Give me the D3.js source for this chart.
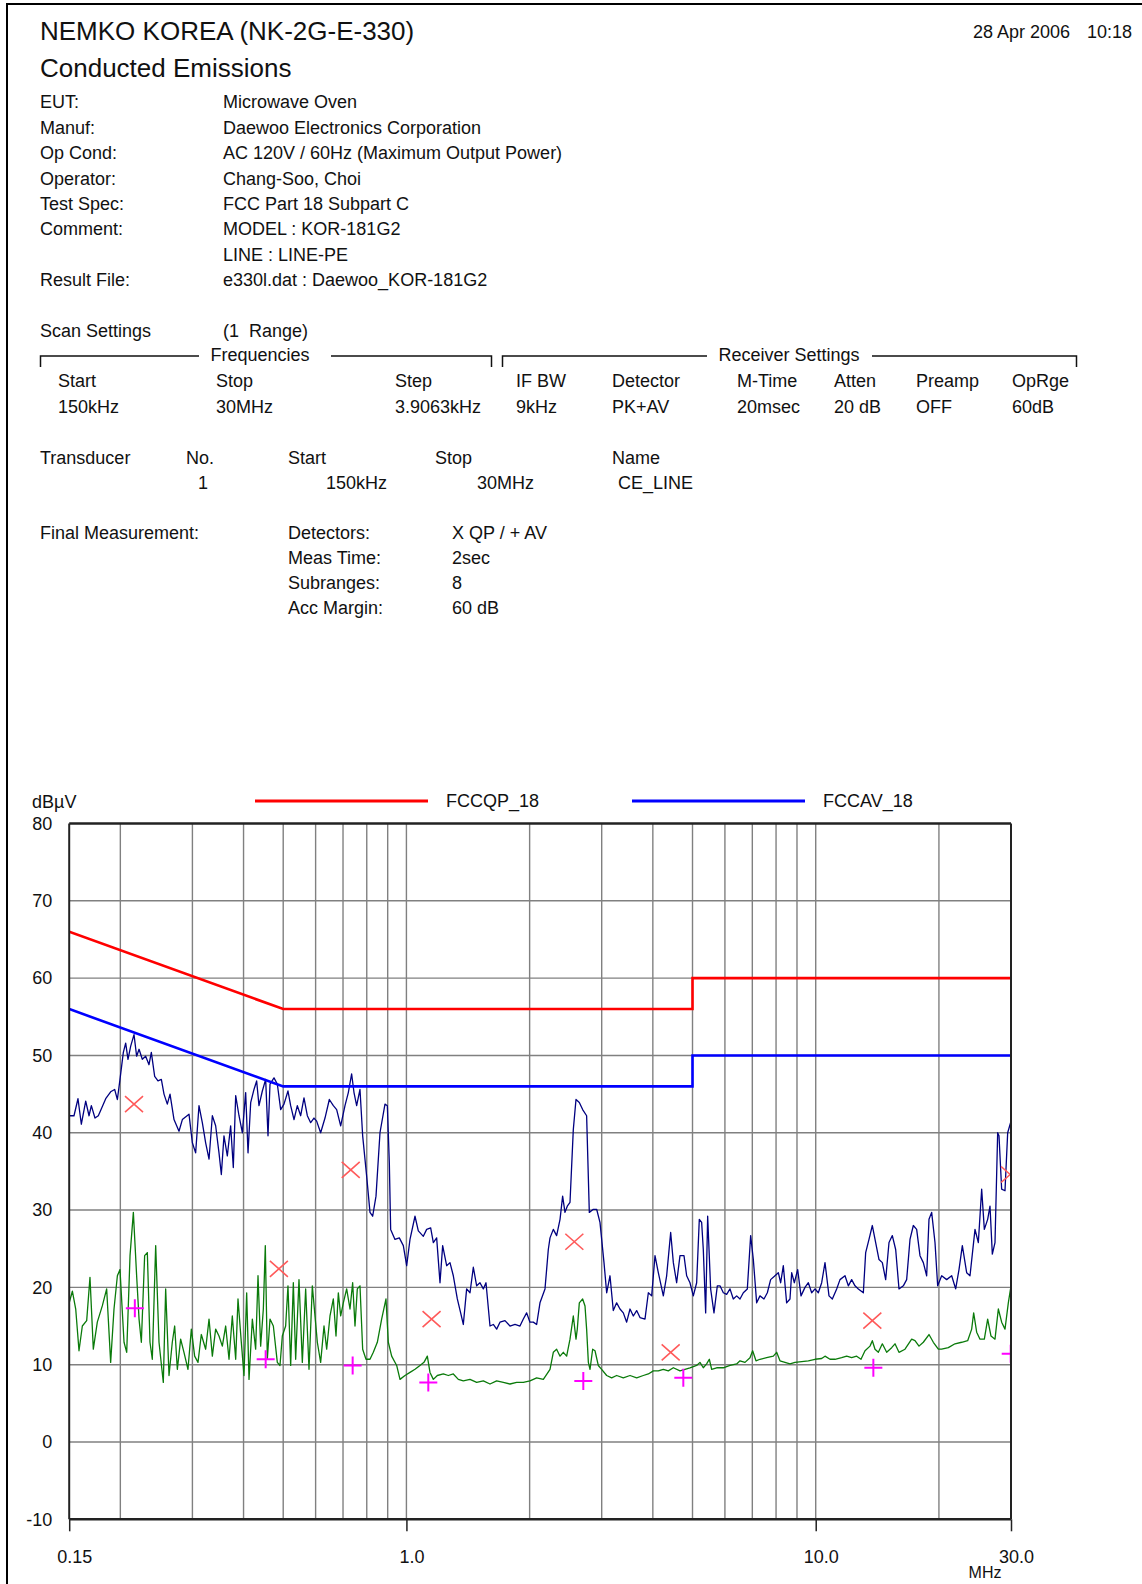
<!DOCTYPE html>
<html>
<head>
<meta charset="utf-8">
<script src="https://cdn.jsdelivr.net/npm/d3@7"></script>
<style>
  body { margin: 0; background: #fff; }
  svg { display: block; }
  text { font-family: "Liberation Sans", Arial, sans-serif; fill: #111; }
</style>
</head>
<body>
<svg id="page" width="1142" height="1584"></svg>
<script>

// ---- report header text
var infoLabels = ["EUT:", "Manuf:", "Op Cond:", "Operator:", "Test Spec:", "Comment:", "", "Result File:"];
var infoValues = ["Microwave Oven", "Daewoo Electronics Corporation", "AC 120V / 60Hz (Maximum Output Power)",
                  "Chang-Soo, Choi", "FCC Part 18 Subpart C", "MODEL : KOR-181G2", "LINE : LINE-PE",
                  "e330l.dat : Daewoo_KOR-181G2"];
var scanHeads  = ["Start", "Stop", "Step", "IF BW", "Detector", "M-Time", "Atten", "Preamp", "OpRge"];
var scanValues = ["150kHz", "30MHz", "3.9063kHz", "9kHz", "PK+AV", "20msec", "20 dB", "OFF", "60dB"];
var transHeads  = ["Transducer", "No.", "Start", "Stop", "Name"];
var transValues = ["", "1", "150kHz", "30MHz", "CE_LINE"];
var finalLabels = ["Detectors:", "Meas Time:", "Subranges:", "Acc Margin:"];
var finalValues = ["X QP / + AV", "2sec", "8", "60 dB"];

// ---- chart data (MHz, dBuV)
var freqTicks = [0.15, 1, 10, 30];
var freqTickLabels = ["0.15", "1.0", "10.0", "30.0"];
var gridFreqs = [0.2, 0.3, 0.4, 0.5, 0.6, 0.7, 0.8, 0.9, 1, 2, 3, 4, 5, 6, 7, 8, 9, 10, 20];
var levelTicks = [-10, 0, 10, 20, 30, 40, 50, 60, 70, 80];

var limitFreq = [0.15, 0.5, 5, 5, 30];
var qpLimit   = [66, 56, 56, 60, 60];
var avLimit   = [56, 46, 46, 50, 50];

var qpFreq  = [0.216, 0.488, 0.731, 1.152, 2.572, 4.422, 13.75, 29.85];
var qpLevel = [43.7, 22.4, 35.2, 15.9, 25.9, 11.6, 15.7, 34.6];
var avFreq  = [0.217, 0.453, 0.739, 1.131, 2.705, 4.748, 13.83, 29.95];
var avLevel = [17.3, 10.7, 9.9, 7.7, 7.9, 8.3, 9.6, 11.4];

var peakTrace = [
  [0.150,42.2],[0.1541,42.2],[0.1576,44.4],[0.1606,41.1],[0.1646,44.1],[0.1677,42.2],[0.1699,43.5],[0.1734,41.9],
  [0.1767,42.2],[0.1801,43.2],[0.1842,44.4],[0.1894,45.3],[0.1937,45.6],[0.1967,44.3],[0.1996,46.9],[0.2034,50.4],
  [0.2061,51.6],[0.2088,49.5],[0.2120,51.2],[0.2160,52.7],[0.2192,49.9],[0.2222,50.8],[0.2263,49.5],[0.2306,49.9],
  [0.2350,48.8],[0.2381,50.4],[0.2426,47.3],[0.2472,46.7],[0.2519,46.9],[0.2557,45.0],[0.2605,43.7],[0.2645,45.0],
  [0.2705,41.7],[0.2782,40.2],[0.2835,41.7],[0.2943,42.4],[0.2999,38.7],[0.3055,37.4],[0.3113,43.5],[0.3172,41.3],
  [0.3232,38.7],[0.3294,36.6],[0.3356,42.2],[0.3419,40.9],[0.3484,37.4],[0.3530,34.6],[0.3583,39.6],[0.3651,37.0],
  [0.3720,40.9],[0.3776,35.5],[0.3827,44.8],[0.3899,42.2],[0.3973,40.0],[0.4048,45.2],[0.4102,37.4],[0.4164,43.9],
  [0.4242,45.6],[0.4306,46.7],[0.4363,43.5],[0.4446,45.4],[0.4530,46.9],[0.4590,39.6],[0.4642,46.3],[0.4747,47.1],
  [0.4837,46.3],[0.4929,43.0],[0.5022,43.7],[0.5136,45.4],[0.5214,43.5],[0.5313,41.7],[0.5413,43.5],[0.5516,42.2],
  [0.5620,44.5],[0.5727,42.2],[0.5835,41.3],[0.5945,41.9],
  [0.6035,41.5],[0.6172,40.0],[0.6325,41.9],[0.6481,44.3],[0.6629,43.5],[0.6754,43.0],[0.6908,40.9],[0.7078,43.5],
  [0.7212,45.2],[0.7348,47.6],[0.7446,45.2],[0.7558,43.5],[0.7701,45.6],[0.7818,39.6],[0.7995,34.4],[0.8147,29.7],
  [0.8270,29.2],[0.8427,31.8],[0.8618,40.0],[0.8864,43.7],[0.8982,43.5],[0.9083,36.1],[0.9151,27.5],[0.9377,26.2],
  [0.9609,26.4],[0.9827,25.4],[1.0014,22.8],[1.0203,26.2],[1.0494,29.2],[1.0693,27.3],[1.0998,26.6],[1.1206,27.5],
  [1.1461,27.7],[1.1635,25.8],[1.1854,26.4],[1.2079,20.6],[1.2261,25.4],[1.2540,22.8],[1.2777,23.2],[1.3019,21.5],
  [1.3316,18.5],[1.3567,16.7],[1.3772,15.2],[1.4033,19.8],[1.4300,19.3],[1.4570,22.6],[1.4846,20.2],[1.5126,20.6],
  [1.5413,19.8],[1.5646,20.6],[1.6003,15.0],[1.6305,15.2],[1.6614,14.6],[1.6928,15.5],[1.7410,15.7],[1.7908,15.0],
  [1.8419,15.2],[1.8943,15.0],[1.9303,15.9],[1.9667,16.7],[2.0040,15.5],[2.0419,15.5],[2.0806,15.2],[2.1199,18.0],
  [2.1805,19.8],[2.2216,24.9],
  [2.243,26.4],[2.285,27.5],[2.328,26.7],[2.373,28.8],[2.408,31.8],[2.440,29.7],[2.472,30.5],[2.510,31.0],
  [2.557,40.4],[2.596,44.3],[2.645,43.9],[2.695,43.0],[2.756,42.2],[2.798,29.7],[2.862,30.1],[2.916,30.1],
  [2.971,28.4],[3.039,23.2],[3.085,19.3],[3.143,21.5],[3.202,17.0],[3.263,18.0],[3.325,17.2],[3.388,16.7],
  [3.452,15.5],[3.518,17.2],[3.584,16.3],[3.652,17.0],[3.721,16.1],[3.827,15.9],[3.900,19.3],[3.974,18.9],
  [4.049,24.1],[4.125,21.9],[4.243,18.9],[4.323,21.5],[4.422,27.1],[4.489,23.2],[4.573,20.6],[4.660,24.1],
  [4.766,24.1],[4.838,21.5],[4.929,20.6],[5.023,18.9],[5.118,20.6],[5.195,28.8],[5.264,28.4],[5.313,24.9],
  [5.384,16.7],[5.445,29.2],[5.537,19.8],[5.642,16.7],[5.749,20.2],[5.836,20.2],[5.947,19.3],[6.059,19.1],
  [6.174,19.8],[6.290,18.5],[6.410,18.9],[6.531,18.5],[6.655,19.3],[6.806,19.8],[6.935,26.7],[7.040,23.6],
  [7.173,18.0],[7.308,18.9],[7.475,18.5],[7.617,19.3],[7.760,21.0],[7.952,21.5],[8.103,21.9],[8.210,20.6],
  [8.334,22.8],[8.491,18.0],[8.652,18.5],
  [8.735,21.9],[8.867,20.6],[9.035,22.3],[9.206,18.9],[9.415,20.0],[9.594,20.6],[9.775,19.3],[9.960,19.8],
  [10.148,19.3],[10.341,20.6],[10.536,23.2],[10.776,18.9],[10.980,18.5],[11.251,19.8],[11.464,21.0],[11.791,21.5],
  [12.014,20.2],[12.241,21.0],[12.473,20.2],[12.710,19.8],[13.073,19.3],[13.245,24.5],[13.495,26.2],[13.751,28.0],
  [14.011,25.8],[14.276,23.6],[14.547,23.2],[14.822,21.0],[15.103,25.8],[15.388,26.7],[15.680,24.9],[15.976,19.8],
  [16.370,20.2],[16.680,21.0],[16.996,26.2],[17.318,28.0],[17.645,27.5],[17.979,24.1],[18.320,23.2],[18.667,21.5],
  [18.913,28.8],[19.199,29.7],[19.563,25.8],[19.859,20.2],[20.310,21.5],[20.890,21.0],[21.487,21.5],[21.975,19.8],
  [22.391,22.3],[22.815,25.4],[23.378,21.9],[23.820,21.5],[24.500,27.5],[24.964,25.8],[25.437,32.7],[25.821,27.5],
  [26.309,28.8],[26.658,30.5],[27.009,24.3],[27.417,25.8],[27.832,40.0],[28.041,39.6],[28.465,32.7],[29.004,32.5],
  [29.444,40.0],[30.0,41.5]
];

var avgTrace = [
  [0.150,18.0],[0.1527,19.5],[0.1556,17.2],[0.1585,11.8],[0.1615,15.0],[0.1655,15.7],[0.1686,21.3],[0.1718,12.0],
  [0.1757,15.5],[0.1807,17.6],[0.1852,19.8],[0.1894,10.3],[0.1930,17.2],[0.1967,21.5],[0.1996,22.3],[0.2042,12.9],
  [0.2073,11.6],[0.2112,24.1],[0.2152,29.7],[0.2192,21.5],[0.2222,15.9],[0.2251,12.9],[0.2293,24.1],[0.2328,24.5],
  [0.2363,12.9],[0.2394,10.7],[0.2440,25.4],[0.2486,12.9],[0.2547,7.7],[0.2581,19.8],[0.2630,8.6],[0.2679,12.9],
  [0.2715,15.0],[0.2756,9.4],[0.2808,13.3],[0.2861,11.6],[0.2926,9.4],[0.2982,14.6],[0.3038,11.1],[0.3096,10.3],
  [0.3154,13.9],[0.3232,12.0],[0.3294,15.9],[0.3356,11.1],[0.3419,14.6],[0.3484,13.7],[0.3550,12.4],[0.3617,15.0],
  [0.3686,10.7],[0.3755,16.3],[0.3827,10.7],[0.3877,18.5],[0.3950,12.9],[0.4010,8.6],[0.4071,19.3],[0.4125,8.1],
  [0.4203,15.9],[0.4282,12.0],[0.4339,21.5],[0.4404,12.4],[0.4471,17.2],[0.4521,25.4],[0.4573,10.7],[0.4642,15.9],
  [0.4730,15.0],[0.4837,10.3],[0.4910,9.9],[0.4975,13.7],[0.5069,15.0],[0.5136,20.2],[0.5214,9.9],[0.5293,20.6],
  [0.5363,10.7],[0.5464,21.0],[0.5568,10.3],[0.5673,19.8],[0.5781,9.4],[0.5890,20.2],
  [0.6058,12.9],[0.6172,10.3],[0.6290,15.0],[0.6385,12.0],[0.6505,16.3],[0.6629,18.5],[0.6729,13.7],[0.6818,19.3],
  [0.6908,16.3],[0.7012,18.0],[0.7145,19.8],[0.7280,17.2],[0.7390,20.6],[0.7488,15.0],[0.7586,19.8],[0.7701,20.2],
  [0.7818,12.0],[0.7966,10.7],[0.8147,10.7],[0.8301,11.6],[0.8490,12.9],[0.8699,15.9],[0.8914,18.5],[0.9032,12.9],
  [0.9203,11.1],[0.9466,9.9],[0.9645,8.1],[0.9920,8.6],[1.0203,9.0],[1.0494,9.4],[1.0793,9.9],[1.1038,10.3],
  [1.1248,11.1],[1.1418,9.0],[1.1635,8.1],[1.1898,8.6],[1.2307,8.8],[1.2658,8.6],[1.3019,8.8],[1.3391,8.1],
  [1.3772,7.9],[1.4300,8.1],[1.4846,7.7],[1.5413,7.9],[1.6003,7.5],[1.6614,7.9],[1.7249,7.7],[1.7908,7.5],
  [1.8592,7.7],[1.9303,7.7],[2.0040,7.9],[2.0806,8.3],[2.1602,8.1],
  [2.243,9.4],[2.285,11.6],[2.328,12.0],[2.373,11.1],[2.417,11.6],[2.463,11.1],[2.510,13.3],[2.557,16.3],
  [2.596,13.3],[2.615,14.6],[2.645,18.0],[2.695,18.5],[2.731,17.6],[2.756,14.6],[2.783,10.3],[2.809,9.4],
  [2.851,12.0],[2.889,11.8],[2.943,9.9],[2.999,9.4],[3.085,8.6],[3.173,8.3],[3.263,8.6],[3.388,8.3],
  [3.518,8.6],[3.652,8.3],[3.791,8.6],[3.900,8.8],[4.011,9.2],[4.125,9.2],[4.243,9.4],[4.364,9.2],
  [4.489,9.6],[4.660,9.2],[4.793,9.4],[4.929,9.6],[5.118,9.9],[5.215,10.3],[5.313,9.6],[5.414,10.1],
  [5.496,10.7],[5.569,9.4],[5.728,9.6],[5.947,9.6],[6.174,9.9],[6.410,10.1],[6.531,10.5],[6.717,10.3],
  [6.909,10.9],[7.013,11.8],[7.146,10.5],[7.308,10.7],[7.588,10.9],[7.878,11.1],[8.027,11.6],[8.179,10.5],
  [8.412,10.3],
  [8.653,10.1],[8.900,10.3],[9.241,10.4],[9.594,10.5],[9.960,10.7],[10.341,10.8],[10.536,11.1],[10.837,10.7],
  [11.146,10.7],[11.572,10.9],[11.903,11.1],[12.241,10.9],[12.590,11.1],[12.901,10.7],[13.196,11.8],[13.571,12.4],
  [13.751,13.1],[13.959,12.0],[14.223,11.6],[14.547,12.7],[14.906,11.6],[15.331,12.2],[15.621,12.7],[15.976,11.6],
  [16.525,12.0],[17.157,13.3],[17.481,13.1],[17.879,12.4],[18.320,12.9],[18.913,13.9],[19.381,12.9],[19.933,12.0],
  [20.310,12.0],[21.087,12.2],[21.892,12.7],[22.729,12.9],[23.510,13.1],[24.046,14.6],[24.317,16.7],[24.731,14.2],
  [25.198,13.3],[25.821,13.3],[26.309,15.9],[26.808,13.7],[27.417,13.3],[27.937,17.2],[28.465,15.5],[29.004,14.6],
  [29.552,18.0],[30.0,20.2]
];

var svg = d3.select("#page");

// page frame (left + top edge of the printout)
svg.append("path").attr("d", "M7,1584V4H1142")
   .attr("fill", "none").attr("stroke", "#000").attr("stroke-width", 2);

function label(g, str, x, y, size, anchor) {
  return g.append("text").attr("x", x).attr("y", y).attr("dy", "0.35em")
    .attr("font-size", size).attr("text-anchor", anchor || "start").text(str);
}

// title block
label(svg, "NEMKO KOREA (NK-2G-E-330)", 40, 31, 26);
label(svg, "Conducted Emissions", 40, 68, 26);
label(svg, "28 Apr 2006", 973, 32, 18);
label(svg, "10:18", 1087, 32, 18);

svg.selectAll(".infoL").data(infoLabels).enter().append("text")
  .attr("class", "infoL").attr("x", 40).attr("y", function(d, i) { return 102 + i * 25.4; })
  .attr("dy", "0.35em").attr("font-size", 18).text(function(d) { return d; });
svg.selectAll(".infoV").data(infoValues).enter().append("text")
  .attr("class", "infoV").attr("x", 223).attr("y", function(d, i) { return 102 + i * 25.4; })
  .attr("dy", "0.35em").attr("font-size", 18).text(function(d) { return d; });

// scan settings
label(svg, "Scan Settings", 40, 331, 18);
label(svg, "(1  Range)", 223, 331, 18).attr("xml:space", "preserve");

var bracket = svg.append("g").attr("fill", "none").attr("stroke", "#111").attr("stroke-width", 1.5);
bracket.append("path").attr("d", "M40.5,367V356H199M331,356H491.5V367");
bracket.append("path").attr("d", "M502.5,367V356H707M872,356H1076.5V367");
label(svg, "Frequencies", 260, 355, 18, "middle");
label(svg, "Receiver Settings", 789, 355, 18, "middle");

var scanX = [58, 216, 395, 516, 612, 737, 834, 916, 1012];
svg.selectAll(".scanH").data(scanHeads).enter().append("text")
  .attr("x", function(d, i) { return scanX[i]; }).attr("y", 381)
  .attr("dy", "0.35em").attr("font-size", 18).text(function(d) { return d; });
svg.selectAll(".scanV").data(scanValues).enter().append("text")
  .attr("x", function(d, i) { return scanX[i]; }).attr("y", 407)
  .attr("dy", "0.35em").attr("font-size", 18).text(function(d) { return d; });

var transHX = [40, 186, 288, 435, 612];
var transVX = [40, 198, 326, 477, 618];
svg.selectAll(".trH").data(transHeads).enter().append("text")
  .attr("x", function(d, i) { return transHX[i]; }).attr("y", 458)
  .attr("dy", "0.35em").attr("font-size", 18).text(function(d) { return d; });
svg.selectAll(".trV").data(transValues).enter().append("text")
  .attr("x", function(d, i) { return transVX[i]; }).attr("y", 483)
  .attr("dy", "0.35em").attr("font-size", 18).text(function(d) { return d; });

label(svg, "Final Measurement:", 40, 533, 18);
svg.selectAll(".fmL").data(finalLabels).enter().append("text")
  .attr("x", 288).attr("y", function(d, i) { return 533 + i * 25; })
  .attr("dy", "0.35em").attr("font-size", 18).text(function(d) { return d; });
svg.selectAll(".fmV").data(finalValues).enter().append("text")
  .attr("x", 452).attr("y", function(d, i) { return 533 + i * 25; })
  .attr("dy", "0.35em").attr("font-size", 18).text(function(d) { return d; });

// ---- chart
var x = d3.scaleLog().domain([0.15, 30]).range([69.2, 1011]);
var y = d3.scaleLinear().domain([-10, 80]).range([1519.3, 823.5]);

svg.append("clipPath").attr("id", "plotclip").append("rect")
  .attr("x", x(0.15)).attr("y", y(80)).attr("width", x(30) - x(0.15)).attr("height", y(-10) - y(80));

// legend
label(svg, "dB\u00B5V", 32, 802, 18);
var legendNames = ["FCCQP_18", "FCCAV_18"];
var legendColors = ["#ff0000", "#0000ff"];
var legendX = [255, 632];
var leg = svg.selectAll(".leg").data(legendNames).enter().append("g")
  .attr("transform", function(d, i) { return "translate(" + legendX[i] + ",801)"; });
leg.append("line").attr("x1", 0).attr("x2", 173).attr("y1", 0).attr("y2", 0)
  .attr("stroke", function(d, i) { return legendColors[i]; }).attr("stroke-width", 3);
leg.append("text").attr("x", 191).attr("dy", "0.35em").attr("font-size", 18).text(function(d) { return d; });

// grid
var grid = svg.append("g").attr("stroke", "#808080").attr("stroke-width", 1.4);
grid.selectAll(".vg").data(gridFreqs).enter().append("line")
  .attr("x1", function(d) { return x(d); }).attr("x2", function(d) { return x(d); })
  .attr("y1", y(80)).attr("y2", y(-10));
grid.selectAll(".hg").data(levelTicks.filter(function(d) { return d > -10 && d < 80; })).enter().append("line")
  .attr("x1", x(0.15)).attr("x2", x(30))
  .attr("y1", function(d) { return y(d); }).attr("y2", function(d) { return y(d); });

// axes
var xAxis = svg.append("g").attr("transform", "translate(0," + y(-10) + ")")
  .call(d3.axisBottom(x).tickValues(freqTicks).tickFormat(function(d, i) { return freqTickLabels[i]; })
        .tickSize(12).tickPadding(19));
xAxis.select(".domain").remove();
xAxis.selectAll("line").attr("stroke", "#222").attr("stroke-width", 1.5);
xAxis.selectAll("text").attr("font-size", 18).attr("fill", "#111").attr("dx", 5)
  .attr("font-family", "'Liberation Sans', Arial, sans-serif");

var yAxis = svg.append("g").attr("transform", "translate(" + x(0.15) + ",0)")
  .call(d3.axisLeft(y).tickValues(levelTicks).tickFormat(function(d) { return String(d); })
        .tickSize(0).tickPadding(17));
yAxis.select(".domain").remove();
yAxis.selectAll("text").attr("font-size", 18).attr("fill", "#111")
  .attr("font-family", "'Liberation Sans', Arial, sans-serif");

label(svg, "MHz", 985, 1572, 16, "middle");

// traces
var line = d3.line().x(function(d) { return x(d[0]); }).y(function(d) { return y(d[1]); });
var plot = svg.append("g").attr("clip-path", "url(#plotclip)");
plot.append("path").datum(avgTrace).attr("d", line)
  .attr("fill", "none").attr("stroke", "#0a7a0a").attr("stroke-width", 1.3).attr("stroke-linejoin", "round");
plot.append("path").datum(peakTrace).attr("d", line)
  .attr("fill", "none").attr("stroke", "#000080").attr("stroke-width", 1.3).attr("stroke-linejoin", "round");

// limit lines
var qpLine = limitFreq.map(function(f, i) { return [f, qpLimit[i]]; });
var avLine = limitFreq.map(function(f, i) { return [f, avLimit[i]]; });
plot.append("path").datum(qpLine).attr("d", line).attr("fill", "none").attr("stroke", "#ff0000").attr("stroke-width", 2.6);
plot.append("path").datum(avLine).attr("d", line).attr("fill", "none").attr("stroke", "#0000ff").attr("stroke-width", 2.6);

// final measurement markers
plot.selectAll(".qp").data(qpFreq).enter().append("path")
  .attr("transform", function(d, i) { return "translate(" + x(d) + "," + y(qpLevel[i]) + ")"; })
  .attr("d", "M-9,-8L9,8M9,-8L-9,8").attr("stroke", "#ff5a5a").attr("stroke-width", 1.6).attr("fill", "none");
plot.selectAll(".av").data(avFreq).enter().append("path")
  .attr("transform", function(d, i) { return "translate(" + x(d) + "," + y(avLevel[i]) + ")"; })
  .attr("d", "M-9,0H9M0,-9V9").attr("stroke", "#ff00ff").attr("stroke-width", 2).attr("fill", "none");

// plot frame
var frame = svg.append("g").attr("stroke", "#222").attr("fill", "none");
frame.append("line").attr("x1", x(0.15)).attr("x2", x(30)).attr("y1", y(80)).attr("y2", y(80)).attr("stroke-width", 2.5);
frame.append("line").attr("x1", x(0.15)).attr("x2", x(30)).attr("y1", y(-10)).attr("y2", y(-10)).attr("stroke-width", 2.5);
frame.append("line").attr("x1", x(0.15)).attr("x2", x(0.15)).attr("y1", y(80)).attr("y2", y(-10)).attr("stroke-width", 2);
frame.append("line").attr("x1", x(30)).attr("x2", x(30)).attr("y1", y(80)).attr("y2", y(-10)).attr("stroke-width", 2);

</script>
</body>
</html>
